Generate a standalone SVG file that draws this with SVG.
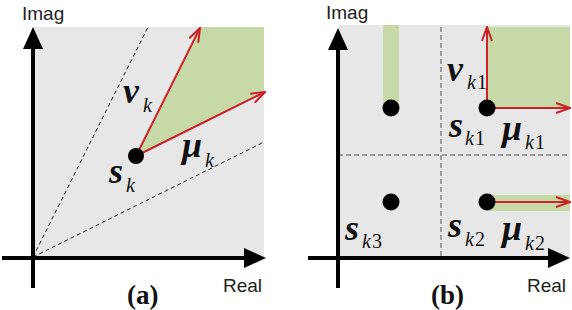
<svg xmlns="http://www.w3.org/2000/svg" width="572" height="310" viewBox="0 0 572 310">
<style>
.bg{fill:#e7e7e7}
.green{fill:#c6d9a6}
.axis{stroke:#000;stroke-width:4;fill:none}
.dash{stroke:#222;stroke-width:1;stroke-dasharray:4 3;fill:none}
.dashg{stroke:#555;stroke-width:1;stroke-dasharray:5 3;fill:none}
.vec{stroke:#cc2229;stroke-width:2;fill:none}
.dot{fill:#000}
.sans{font-family:'Liberation Sans',Arial,sans-serif;font-size:19px;fill:#222}
.cap{font-family:'Liberation Serif','Times New Roman',serif;font-weight:bold;font-size:27px;fill:#111}
.m{font-family:'Liberation Serif','Times New Roman',serif;font-style:italic;font-weight:bold;font-size:36px;fill:#111}
.sub{font-size:20px;font-weight:normal}
.num{font-style:normal}
</style>
<defs>
<marker id="ax" viewBox="0 0 22 20" refX="0" refY="10" markerWidth="22" markerHeight="20" markerUnits="userSpaceOnUse" orient="auto">
<path d="M0,0 L22,10 L0,20 Z" fill="#000"/>
</marker>
<marker id="rv" viewBox="0 0 16 12" refX="15" refY="6" markerWidth="16" markerHeight="12" markerUnits="userSpaceOnUse" orient="auto">
<path d="M1,1 L15,6 L1,11" fill="none" stroke="#cc2229" stroke-width="2"/>
</marker>
</defs>

<!-- Panel (a) -->
<g id="panel-a-bg">
<rect class="bg" x="33" y="27" width="231" height="231"/>
<polygon class="green" points="136,156 200,27 264,27 264,92"/>
</g>
<g id="panel-a-connectors">
<line class="dash" x1="33" y1="257" x2="148" y2="27"/>
<line class="dash" x1="33" y1="257" x2="264" y2="142"/>
<line class="axis" x1="33" y1="288" x2="33" y2="49" marker-end="url(#ax)"/>
<line class="axis" x1="2" y1="258" x2="244" y2="258" marker-end="url(#ax)"/>
<line class="vec" x1="136" y1="156" x2="200" y2="28" marker-end="url(#rv)"/>
<line class="vec" x1="136" y1="156" x2="265" y2="92" marker-end="url(#rv)"/>
</g>
<g id="node-sk">
<circle class="dot" cx="136" cy="156" r="8"/>
<text class="m" x="109" y="183">s<tspan class="sub" x="126" y="192">k</tspan></text>
</g>
<g id="label-nuk"><text class="m" x="123" y="103">ν<tspan class="sub" x="143" y="112">k</tspan></text></g>
<g id="label-muk"><text class="m" x="182" y="157">μ<tspan class="sub" x="205" y="167">k</tspan></text></g>
<text class="cap" x="127" y="304">(a)</text>
<text class="sans" x="22" y="20">Imag</text>
<text class="sans" x="223" y="292">Real</text>

<!-- Panel (b) -->
<g id="panel-b-bg">
<rect class="bg" x="338" y="25" width="232" height="233"/>
<rect class="green" x="383" y="25" width="16" height="83"/>
<rect class="green" x="487" y="27" width="83" height="81"/>
<rect class="green" x="487" y="195" width="83" height="16"/>
</g>
<g id="panel-b-connectors">
<line class="dashg" x1="441" y1="27" x2="441" y2="258"/>
<line class="dashg" x1="338" y1="155" x2="570" y2="155"/>
<line class="axis" x1="338" y1="288" x2="338" y2="50" marker-end="url(#ax)"/>
<line class="axis" x1="308" y1="258" x2="548" y2="258" marker-end="url(#ax)"/>
<line class="vec" x1="487" y1="108" x2="487" y2="27" marker-end="url(#rv)"/>
<line class="vec" x1="487" y1="108" x2="570" y2="108" marker-end="url(#rv)"/>
<line class="vec" x1="487" y1="202" x2="570" y2="202" marker-end="url(#rv)"/>
</g>
<g id="node-s-left-top"><circle class="dot" cx="391" cy="108" r="8.5"/></g>
<g id="node-sk1">
<circle class="dot" cx="487" cy="108" r="8.5"/>
<text class="m" x="449" y="137">s<tspan class="sub" x="465" y="145">k</tspan><tspan class="sub num" x="475" y="145">1</tspan></text>
</g>
<g id="node-sk3">
<circle class="dot" cx="391" cy="202" r="8.5"/>
<text class="m" x="345" y="240">s<tspan class="sub" x="362" y="248">k</tspan><tspan class="sub num" x="372" y="248">3</tspan></text>
</g>
<g id="node-sk2">
<circle class="dot" cx="487" cy="202" r="8.5"/>
<text class="m" x="448" y="237">s<tspan class="sub" x="465" y="246">k</tspan><tspan class="sub num" x="475" y="246">2</tspan></text>
</g>
<g id="label-nuk1"><text class="m" x="447" y="81">ν<tspan class="sub" x="467" y="89">k</tspan><tspan class="sub num" x="477" y="89">1</tspan></text></g>
<g id="label-muk1"><text class="m" x="502" y="140">μ<tspan class="sub" x="525" y="149">k</tspan><tspan class="sub num" x="535" y="149">1</tspan></text></g>
<g id="label-muk2"><text class="m" x="502" y="240">μ<tspan class="sub" x="525" y="250">k</tspan><tspan class="sub num" x="535" y="250">2</tspan></text></g>
<text class="cap" x="431" y="304">(b)</text>
<text class="sans" x="326" y="19">Imag</text>
<text class="sans" x="527" y="292">Real</text>
</svg>
